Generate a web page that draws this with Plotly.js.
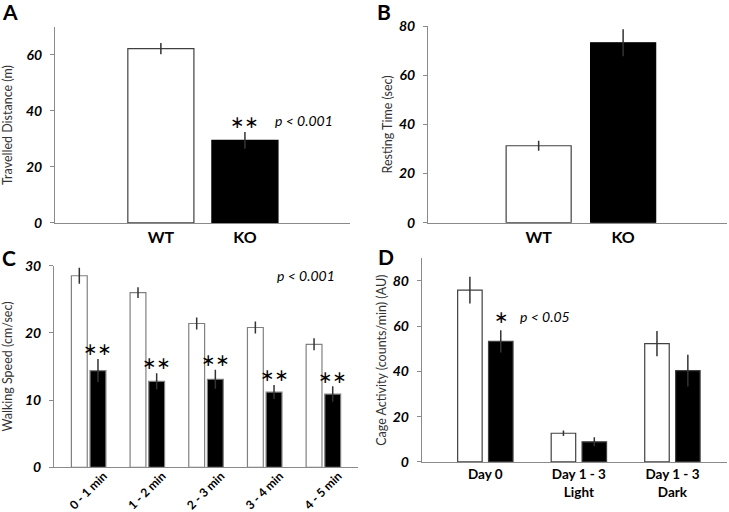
<!DOCTYPE html>
<html>
<head>
<meta charset="utf-8">
<script src="https://cdn.plot.ly/plotly-3.0.1.min.js"></script>
<style>html,body{margin:0;padding:0;background:#fff;}#chart{width:729px;height:512px;}</style>
</head>
<body>
<div id="chart"></div>
<script>
// ---- data ----
const groupsAB = ['WT', 'KO'];
const distance = [62.3, 29.5];
const distanceErr = [2.0, 3.0];
const resting = [31.3, 73.2];
const restingErr = [2.0, 5.5];

const timeBins = ['0 - 1 min', '1 - 2 min', '2 - 3 min', '3 - 4 min', '4 - 5 min'];
const speedWT = [28.5, 26.0, 21.4, 20.8, 18.3];
const speedWTErr = [1.2, 0.8, 0.9, 0.9, 0.9];
const speedKO = [14.4, 12.8, 13.1, 11.2, 10.9];
const speedKOErr = [1.7, 1.2, 1.4, 1.05, 1.15];

const cageCats = ['Day 0', 'Day 1 - 3<br>Light', 'Day 1 - 3<br>Dark'];
const cageWT = [75.9, 12.7, 52.3];
const cageWTErr = [5.9, 1.2, 5.6];
const cageKO = [53.3, 8.9, 40.4];
const cageKOErr = [4.9, 2.0, 7.0];

// ---- styles ----
const FONT = 'Lato, "Open Sans", sans-serif';
const AXC = '#8a8a8a';
const errStyle = (arr) => ({type: 'data', array: arr, visible: true, width: 0, thickness: 1.5, color: '#333'});

const traces = [
  {type: 'bar', x: groupsAB, y: distance, xaxis: 'x', yaxis: 'y', width: 0.786,
   marker: {color: ['#ffffff', '#000000'], line: {color: ['#404040', '#000000'], width: 1.2}},
   error_y: errStyle(distanceErr), showlegend: false},
  {type: 'bar', x: groupsAB, y: resting, xaxis: 'x2', yaxis: 'y2', width: 0.77,
   marker: {color: ['#ffffff', '#000000'], line: {color: ['#404040', '#000000'], width: 1.2}},
   error_y: errStyle(restingErr), showlegend: false},
  {type: 'bar', x: timeBins, y: speedWT, xaxis: 'x3', yaxis: 'y3', width: 0.27, offset: -0.294,
   marker: {color: '#ffffff', line: {color: '#808080', width: 1.2}},
   error_y: errStyle(speedWTErr), showlegend: false},
  {type: 'bar', x: timeBins, y: speedKO, xaxis: 'x3', yaxis: 'y3', width: 0.27, offset: 0.024,
   marker: {color: '#000000', line: {color: '#808080', width: 1.2}},
   error_y: errStyle(speedKOErr), showlegend: false},
  {type: 'bar', x: cageCats, y: cageWT, xaxis: 'x4', yaxis: 'y4', width: 0.262, offset: -0.296,
   marker: {color: '#ffffff', line: {color: '#404040', width: 1.2}},
   error_y: errStyle(cageWTErr), showlegend: false},
  {type: 'bar', x: cageCats, y: cageKO, xaxis: 'x4', yaxis: 'y4', width: 0.262, offset: 0.034,
   marker: {color: '#000000', line: {color: '#404040', width: 1.2}},
   error_y: errStyle(cageKOErr), showlegend: false}
];

const yTickFont = {family: FONT, size: 14, color: '#000', weight: 'bold', style: 'italic'};
const yTitleFont = {family: FONT, size: 12.5, color: '#333'};
function yax(anchor, domain, range, dtick, title, standoff) {
  return {anchor: anchor, domain: domain, range: range, dtick: dtick, tick0: 0, showgrid: false, zeroline: false,
    showline: true, linecolor: AXC, linewidth: 1, ticks: 'outside', ticklen: 4, tickcolor: AXC,
    ticklabelstandoff: 5,
    tickfont: yTickFont, title: {text: title, font: yTitleFont, standoff: standoff}, automargin: false, fixedrange: true};
}
function xax(anchor, domain, range, fontSize, angle) {
  return {anchor: anchor, domain: domain, range: range, type: 'category', showgrid: false, zeroline: false,
    showline: true, linecolor: AXC, linewidth: 1, ticks: '', tickangle: angle,
    tickfont: {family: FONT, size: fontSize, color: '#000', weight: 'bold'}, automargin: false, fixedrange: true};
}

const ann = [];
function letter(t, x, y) {
  ann.push({text: '<b>' + t + '</b>', xref: 'paper', yref: 'paper', x: x, y: y, xanchor: 'left', yanchor: 'top',
    showarrow: false, font: {family: FONT, size: 21, color: '#000'}});
}
letter('A', 0.0, 1.005);
letter('B', 0.515, 1.005);
letter('C', 0.0, 0.525);
letter('D', 0.516, 0.528);

function star(xr, yr, x, y, t) {
  ann.push({text: t, xref: xr, yref: yr, x: x, y: y, xanchor: 'center', yanchor: 'middle',
    showarrow: false, font: {family: 'DejaVu Sans', size: 17, color: '#000'}});
}
function pval(xr, yr, x, y, t) {
  ann.push({text: '<i>' + t + '</i>', xref: xr, yref: yr, x: x, y: y, xanchor: 'left', yanchor: 'middle',
    showarrow: false, font: {family: FONT, size: 14, color: '#000'}});
}
// A
star('x', 'y', 1, distance[1] + distanceErr[1] + 3.6, '∗∗');
pval('x', 'y', 1.33, 36.6, 'p < 0.001');
// B
star('x2', 'y2', 1, resting[1] + restingErr[1] + 3.6, '∗∗');
pval('x2', 'y2', 1.40, 83.3, 'p < 0.001');
// C
for (let i = 0; i < timeBins.length; i++) {
  star('x3', 'y3', i + 0.159, speedKO[i] + speedKOErr[i] + 1.45, '∗∗');
}
pval('x3', 'y3', 3.17, 28.6, 'p < 0.001');
// D
star('x4', 'y4', 0 + 0.165, cageKO[0] + cageKOErr[0] + 5.7, '∗');
pval('x4', 'y4', 0.35, 64.2, 'p < 0.05');

const xC = xax('y3', [0.0741, 0.4911], [-0.59, 4.59], 12, -45);
xC.ticklabelshift = 15;
xC.ticklabelstandoff = -4;

const layout = {
  width: 729, height: 512,
  margin: {l: 0, r: 0, t: 0, b: 0},
  paper_bgcolor: '#fff', plot_bgcolor: 'rgba(0,0,0,0)',
  showlegend: false, barmode: 'overlay',
  font: {family: FONT},
  xaxis: xax('y', [0.0754, 0.4801], [-1.26, 2.25], 16, 0),
  yaxis: yax('x', [0.5645, 0.9473], [0, 70], 20, 'Travelled Distance (m)', 10),
  xaxis2: xax('y2', [0.5871, 0.9973], [-1.31, 2.23], 16, 0),
  yaxis2: yax('x2', [0.565, 0.9492], [0, 80], 20, 'Resting Time (sec)', 3),
  xaxis3: xC,
  yaxis3: yax('x3', [0.0873, 0.4811], [0, 30], 10, 'Walking Speed (cm/sec)', 10),
  xaxis4: xax('y4', [0.5785, 0.9968], [-0.68, 2.58], 13.5, 0),
  yaxis4: yax('x4', [0.0977, 0.4955], [0, 90], 20, 'Cage Activity (counts/min) (AU)', 3),
  annotations: ann
};

Plotly.newPlot('chart', traces, layout, {displayModeBar: false, staticPlot: true});
</script>
</body>
</html>
